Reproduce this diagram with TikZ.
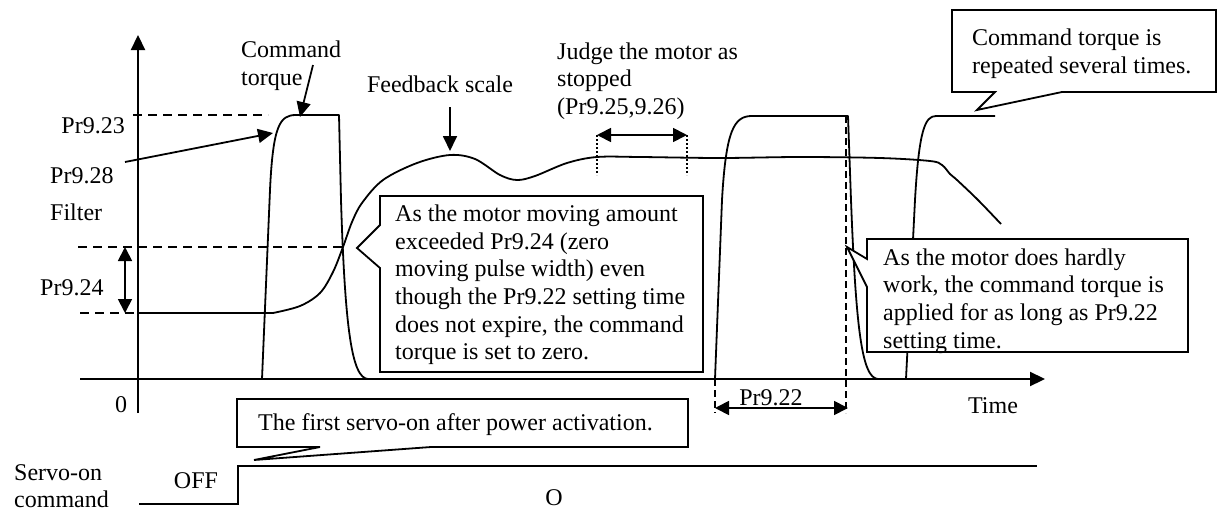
\documentclass[tikz,border=0pt]{standalone}
\usepackage{fontspec}
\setmainfont{Liberation Serif}
\usetikzlibrary{arrows.meta}
\begin{document}
\begin{tikzpicture}[x=1pt,y=-1pt,
  txt/.style={inner sep=0pt, font=\fontsize{24}{27.6}\selectfont, align=left},
  curve/.style={line width=1.8pt, line join=round},
  axis/.style={line width=2.2pt, -{Triangle[length=15pt,width=14pt]}},
  dashline/.style={line width=1.5pt, dash pattern=on 9pt off 6pt},
  vdash/.style={line width=1.5pt, dash pattern=on 7pt off 4pt},
  dotline/.style={line width=1.5pt, dash pattern=on 2pt off 2pt},
  callout/.style={draw, fill=white, line width=1.8pt, line join=miter},
  tipline/.style={line width=1.8pt, -{Triangle[length=15pt,width=14pt]}},
  dtip/.style={line width=1.8pt, {Triangle[length=14pt,width=14pt]}-{Triangle[length=14pt,width=14pt]}},
]
\useasboundingbox (0,0) rectangle (1219,509);
% axes
\coordinate (yb) at (138,413);
\coordinate (yt) at (138,35);
\draw[axis] (yb) -- (yt);
\coordinate (xl) at (80,379);
\coordinate (xr) at (1045,379);
\draw[axis] (xl) -- (xr);
% dashed levels
\coordinate (d1a) at (133,115); \coordinate (d1b) at (268,115);
\draw[dashline] (d1a) -- (d1b);
\coordinate (d2a) at (78,247); \coordinate (d2b) at (345,247);
\draw[dashline] (d2a) -- (d2b);
\coordinate (d3a) at (80,313); \coordinate (d3b) at (138,313);
\draw[dashline] (d3a) -- (d3b);
% feedback curve
\draw[curve] (d3b) -- (273,313) -- plot[smooth, tension=0.55] coordinates {(273,313) (300,306) (320,293) (333,272) (343,247) (352,222) (362,203) (383,180) (417,163) (450,155) (475,159) (500,175) (517,180) (535,176) (567,163) (597,157) (640,157) (720,158) (800,157) (880,158) (930,161) (942,165) (950,174) (957,180) (978,200) (1001,224)};
% command torque pulses
\draw[curve] (262,379) -- (270,190) .. controls (273,125) and (280,115) .. (296,115) -- (339,115) -- (341,200) .. controls (345,330) and (352,378) .. (368,379) -- (376,379);
\draw[curve] (715,379) -- (722,200) .. controls (726,130) and (734,116) .. (752,116) -- (848,116) -- (851,200) .. controls (856,330) and (862,378) .. (878,379) -- (886,379);
\draw[curve] (906,379) -- (915,200) .. controls (919,130) and (925,116) .. (936,116) -- (995,116);
% Pr9.22 markers
\coordinate (p22a) at (715,379); \coordinate (p22b) at (715,413);
\coordinate (p22c) at (846,116); \coordinate (p22d) at (846,413);
\draw[vdash] (p22a) -- (p22b);
\draw[vdash] (p22c) -- (p22d);
\coordinate (p22l) at (715,408); \coordinate (p22r) at (848,408);
\draw[dtip] (p22l) -- (p22r);
% judge markers
\coordinate (j1t) at (597,135); \coordinate (j1b) at (597,175);
\coordinate (j2t) at (687,135); \coordinate (j2b) at (687,175);
\draw[dotline] (j1t) -- (j1b);
\draw[dotline] (j2t) -- (j2b);
\draw[dtip] (j1t) -- (j2t);
% Pr9.24 arrow
\coordinate (a24t) at (125,247); \coordinate (a24b) at (125,313);
\draw[dtip] (a24t) -- (a24b);
% servo-on signal
\coordinate (s0) at (139,504); \coordinate (s1) at (238,504);
\coordinate (s2) at (238,466); \coordinate (s3) at (1037,466);
\draw[line width=1.8pt] (s0) -- (s1) -- (s2) -- (s3);
% callouts
\draw[callout] (952,10) -- (1216,10) -- (1216,92) -- (1062,92) -- (977,110) -- (995,92) -- (952,92) -- cycle;
\draw[callout] (380,196) -- (703,196) -- (703,372) -- (380,372) -- (380,268) -- (357,248) -- (380,225) -- cycle;
\draw[callout] (867,239) -- (1188,239) -- (1188,352) -- (867,352) -- (867,287) -- (847,247) -- (867,259) -- cycle;
\draw[callout] (237,399) -- (688,399) -- (688,447) -- (431,447) -- (254,460) -- (320,447) -- (237,447) -- cycle;
% labels
\node[txt, anchor=base east] (p923) at (125,133) {Pr9.23};
\node[txt, anchor=base west] (p928) at (50,183) {Pr9.28};
\node[txt, anchor=base west] (filt) at (50,220) {Filter};
\node[txt, anchor=base west] (p924) at (40,295) {Pr9.24};
\node[txt, anchor=base] (zero) at (121,412) {0};
\node[txt, anchor=west] (ct) at (241,66) {Command\\torque};
\node[txt, anchor=base] (fb) at (440,92) {Feedback scale};
\node[txt, anchor=west] (judge) at (557,81) {Judge the motor as\\stopped\\(Pr9.25,9.26)};
\node[txt, anchor=west] (rep) at (972,54) {Command torque is\\repeated several times.};
\node[txt, anchor=west] (exc) at (395,285) {As the motor moving amount\\exceeded Pr9.24 (zero\\moving pulse width) even\\though the Pr9.22 setting time\\does not expire, the command\\torque is set to zero.};
\node[txt, anchor=west] (hard) at (883,301) {As the motor does hardly\\work, the command torque is\\applied for as long as Pr9.22\\setting time.};
\node[txt, anchor=base west] (first) at (258,430) {The first servo-on after power activation.};
\node[txt, anchor=base] (l922) at (771,405) {Pr9.22};
\node[txt, anchor=base] (time) at (993,413) {Time};
\node[txt, anchor=west] (servo) at (14,486) {Servo-on\\command};
\node[txt, anchor=base] (off) at (196,488) {OFF};
\node[txt, anchor=base] (on) at (554,505) {O};
% pointer arrows
\coordinate (a28s) at (125,162); \coordinate (a28e) at (273,133);
\draw[tipline] (a28s) -- (a28e);
\coordinate (acs) at (313,65); \coordinate (ace) at (300,117);
\draw[tipline] (acs) -- (ace);
\coordinate (afs) at (450,107); \coordinate (afe) at (450,151);
\draw[tipline] (afs) -- (afe);
\end{tikzpicture}
\end{document}
